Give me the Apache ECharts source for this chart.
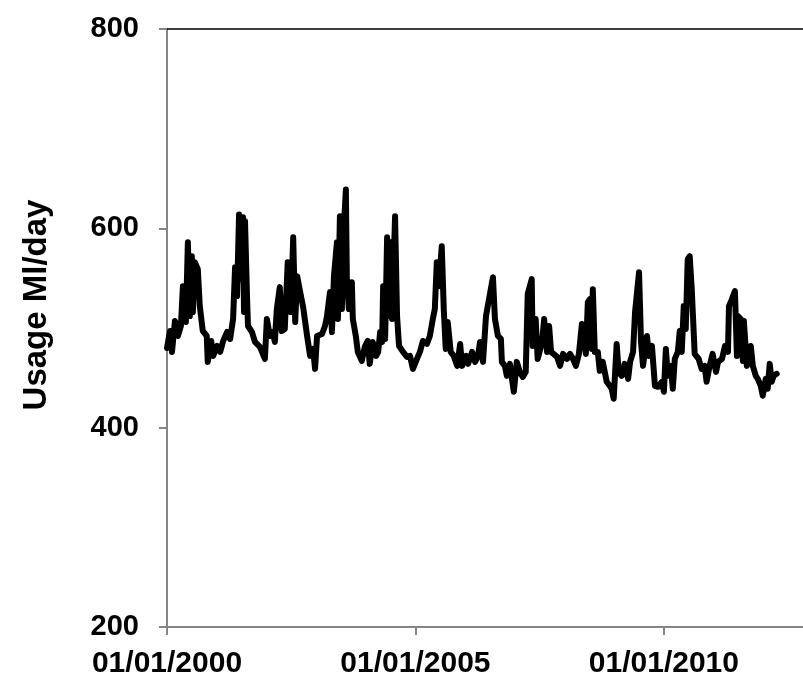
<!DOCTYPE html>
<html>
<head>
<meta charset="utf-8">
<script src="https://cdn.jsdelivr.net/npm/echarts@6/dist/echarts.min.js"></script>
<style>html,body{margin:0;padding:0;background:#fff;}#c{width:803px;height:674px;}</style>
</head>
<body>
<div id="c"></div>
<script>
// Decimal years (time)
var years = [
2000.00,2000.06,2000.10,2000.16,2000.22,2000.28,2000.32,2000.38,2000.42,2000.46,2000.50,2000.52,2000.56,2000.62,2000.66,2000.72,2000.80,2000.82,2000.89,2000.93,
2001.01,2001.07,2001.13,2001.21,2001.27,2001.33,2001.37,2001.41,2001.45,2001.49,2001.53,2001.55,2001.57,2001.61,2001.63,2001.71,2001.77,2001.87,2001.97,
2002.01,2002.07,2002.13,2002.17,2002.21,2002.27,2002.31,2002.37,2002.43,2002.49,2002.54,2002.58,2002.62,2002.68,2002.74,2002.82,2002.88,2002.94,2002.98,
2003.02,2003.12,2003.18,2003.22,2003.28,2003.32,2003.36,2003.42,2003.44,2003.48,2003.52,2003.54,2003.60,2003.62,2003.66,2003.72,2003.74,2003.80,2003.84,2003.92,2003.98,
2004.04,2004.08,2004.14,2004.21,2004.25,2004.29,2004.33,2004.35,2004.39,2004.43,2004.47,2004.51,2004.53,2004.59,2004.63,2004.67,2004.75,2004.83,2004.89,2004.95,
2005.03,2005.09,2005.15,2005.23,2005.29,2005.35,2005.39,2005.43,2005.47,2005.53,2005.57,2005.61,2005.65,2005.71,2005.77,2005.84,2005.90,2005.94,
2006.02,2006.06,2006.14,2006.20,2006.26,2006.30,2006.36,2006.42,2006.46,2006.56,2006.60,2006.66,2006.72,2006.74,2006.80,2006.84,2006.90,2006.94,2006.98,
2007.04,2007.10,2007.16,2007.22,2007.26,2007.30,2007.34,2007.36,2007.42,2007.46,2007.55,2007.59,2007.65,2007.69,2007.73,2007.77,2007.85,2007.91,2007.97,
2008.05,2008.11,2008.17,2008.23,2008.29,2008.35,2008.39,2008.43,2008.47,2008.51,2008.55,2008.57,2008.61,2008.67,2008.71,2008.77,2008.85,2008.91,2008.95,2008.99,
2009.05,2009.09,2009.15,2009.21,2009.28,2009.32,2009.38,2009.42,2009.46,2009.50,2009.54,2009.58,2009.66,2009.70,2009.76,2009.82,2009.88,2009.96,
2010.00,2010.04,2010.08,2010.14,2010.18,2010.22,2010.28,2010.32,2010.36,2010.40,2010.44,2010.48,2010.52,2010.56,2010.58,2010.62,2010.66,2010.70,2010.76,2010.82,2010.86,2010.92,2010.98,
2011.05,2011.09,2011.17,2011.23,2011.29,2011.31,2011.37,2011.43,2011.47,2011.49,2011.55,2011.59,2011.61,2011.67,2011.71,2011.75,2011.79,2011.85,2011.89,2011.95,2011.99,
2012.05,2012.09,2012.13,2012.17,2012.21,2012.27
];
// Usage (Ml/day)
var usage = [
480,497,476,507,492,502,542,506,586,512,572,516,566,559,522,497,492,466,487,472,
482,476,487,496,489,509,561,532,614,549,611,516,607,532,502,496,486,481,469,
509,492,496,486,519,541,497,499,566,516,591,506,552,536,521,492,472,479,459,
492,494,502,512,536,496,552,586,509,612,519,582,639,549,519,546,509,492,476,467,481,
487,464,486,472,476,496,486,542,489,591,512,586,509,612,512,482,476,471,472,459,
469,476,487,484,492,509,519,566,542,582,519,479,506,476,472,462,484,462,
472,464,476,466,472,486,466,512,514,551,509,492,489,466,462,452,464,462,436,
466,456,451,456,534,532,549,482,509,469,486,509,476,502,476,474,471,462,474,
469,474,469,462,474,504,506,474,526,529,479,539,476,476,457,466,446,442,439,429,
484,456,452,464,449,466,476,516,516,556,486,462,492,472,482,442,441,446,
436,479,452,462,439,469,476,497,476,522,499,569,572,540,539,474,474,469,459,462,446,462,474,
456,466,469,482,476,522,529,537,472,512,509,467,507,462,462,482,462,452,449,442,432,
449,439,464,446,452,454
];
var xTicks = [2000, 2005, 2010];
var yTicks = [200, 400, 600, 800];

var points = years.map(function (y, i) { return [y, usage[i]]; });
var font = '"Liberation Sans", Arial, sans-serif';
var chart = echarts.init(document.getElementById('c'));
chart.setOption({
  animation: false,
  backgroundColor: '#ffffff',
  grid: { left: 167, right: 0, top: 29, bottom: 47, containLabel: false, outerBoundsMode: 'none' },
  graphic: [{
    type: 'text',
    x: 37, y: 305,
    rotation: Math.PI / 2,
    style: {
      text: 'Usage Ml/day',
      font: 'bold 33px ' + font,
      fill: '#000',
      align: 'center',
      verticalAlign: 'middle'
    }
  }],
  xAxis: [{
    type: 'value',
    min: 2000, max: 2012.8, interval: 5,
    axisLine: { show: true, lineStyle: { color: '#868686', width: 2 } },
    axisTick: { show: true, length: 8, lineStyle: { color: '#868686', width: 2 } },
    splitLine: { show: false },
    axisLabel: {
      color: '#000', fontWeight: 'bold', fontSize: 30, fontFamily: font, margin: 22,
      showMaxLabel: false,
      formatter: function (v) { return xTicks.indexOf(v) >= 0 ? '01/01/' + v : ''; }
    }
  }, {
    type: 'value', position: 'top',
    min: 2000, max: 2012.8,
    axisLine: { show: true, lineStyle: { color: '#000', width: 1.5 } },
    axisTick: { show: false }, axisLabel: { show: false }, splitLine: { show: false }
  }],
  yAxis: {
    type: 'value',
    min: 200, max: 800, interval: 200,
    axisLine: { show: true, lineStyle: { color: '#868686', width: 2 } },
    axisTick: { show: true, length: 8, lineStyle: { color: '#868686', width: 2 } },
    splitLine: { show: false },
    axisLabel: { color: '#000', fontWeight: 'bold', fontSize: 29, fontFamily: font, margin: 28,
      formatter: function (v) { return yTicks.indexOf(v) >= 0 ? String(v) : ''; } }
  },
  series: [{
    type: 'line',
    data: points,
    showSymbol: false,
    symbol: 'none',
    lineStyle: { color: '#000', width: 6, join: 'round', cap: 'round' },
    z: 5
  }]
});
</script>
</body>
</html>
